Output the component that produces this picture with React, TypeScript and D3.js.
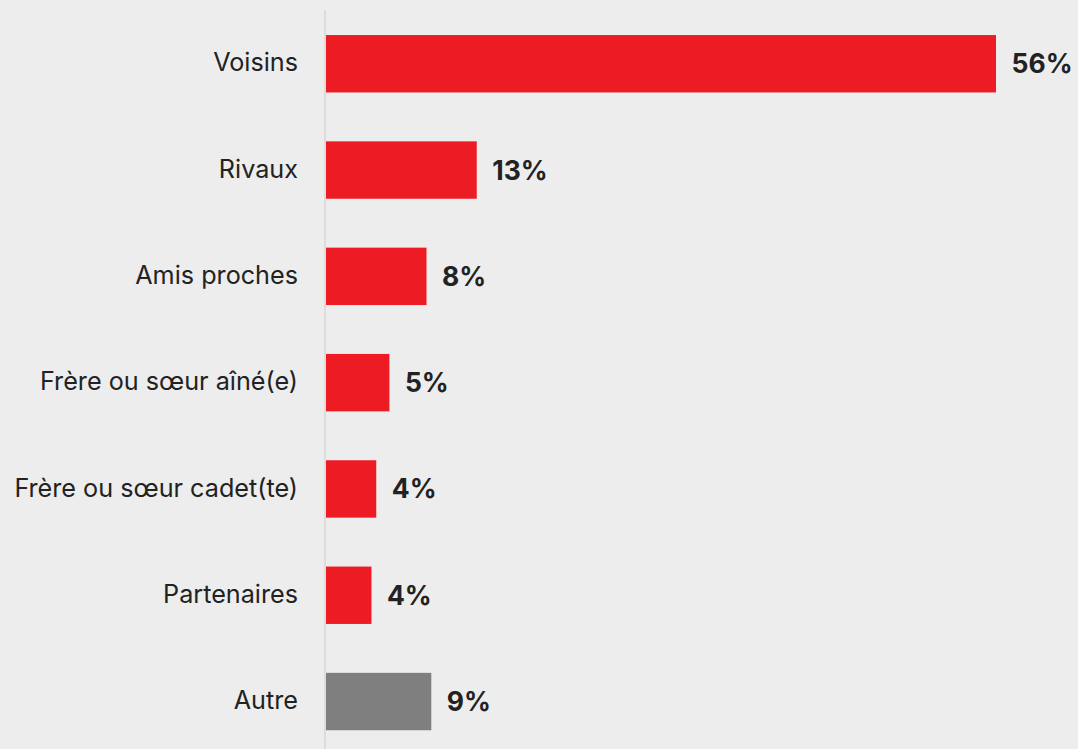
import React from "react";
import * as d3 from "d3";

const categories = [
  "Voisins",
  "Rivaux",
  "Amis proches",
  "Frère ou sœur aîné(e)",
  "Frère ou sœur cadet(te)",
  "Partenaires",
  "Autre",
];
const values = [56, 12.6, 8.4, 5.3, 4.2, 3.8, 8.8];
const colors = ["#ed1c24", "#ed1c24", "#ed1c24", "#ed1c24", "#ed1c24", "#ed1c24", "#7f7f7f"];

const W = 1078;
const H = 749;

export default function App() {
  const y = d3
    .scaleBand<string>()
    .domain(categories)
    .range([10.6, 754.7])
    .paddingInner(0.46)
    .paddingOuter(0.23);
  const x = d3.scaleLinear().domain([0, 56]).range([326, 996]);
  const font = "Inter, 'Noto Sans', sans-serif";

  return (
    <svg
      width={W}
      height={H}
      style={{ position: "absolute", left: 0, top: 0, display: "block" }}
    >
      <rect x={0} y={0} width={W} height={H} fill="#ededed" />
      <line x1={325} x2={325} y1={10} y2={H} stroke="#dcdcdc" strokeWidth={2} />
      {categories.map((c, i) => {
        const yy = y(c)!;
        const bw = y.bandwidth();
        const cy = yy + bw / 2;
        return (
          <g key={c}>
            <rect x={x(0)} y={yy} width={x(values[i]) - x(0)} height={bw} fill={colors[i]} />
            <text
              x={298}
              y={cy}
              dy="0.3em"
              textAnchor="end"
              fontFamily={font}
              fontSize={25.2}
              fill="#222"
            >
              {c}
            </text>
            <text
              x={x(values[i]) + 15.5}
              y={cy}
              dy="0.36em"
              textAnchor="start"
              fontFamily={font}
              fontSize={26.5}
              fontWeight={700}
              fill="#222"
            >
              {Math.round(values[i]) + "%"}
            </text>
          </g>
        );
      })}
    </svg>
  );
}
